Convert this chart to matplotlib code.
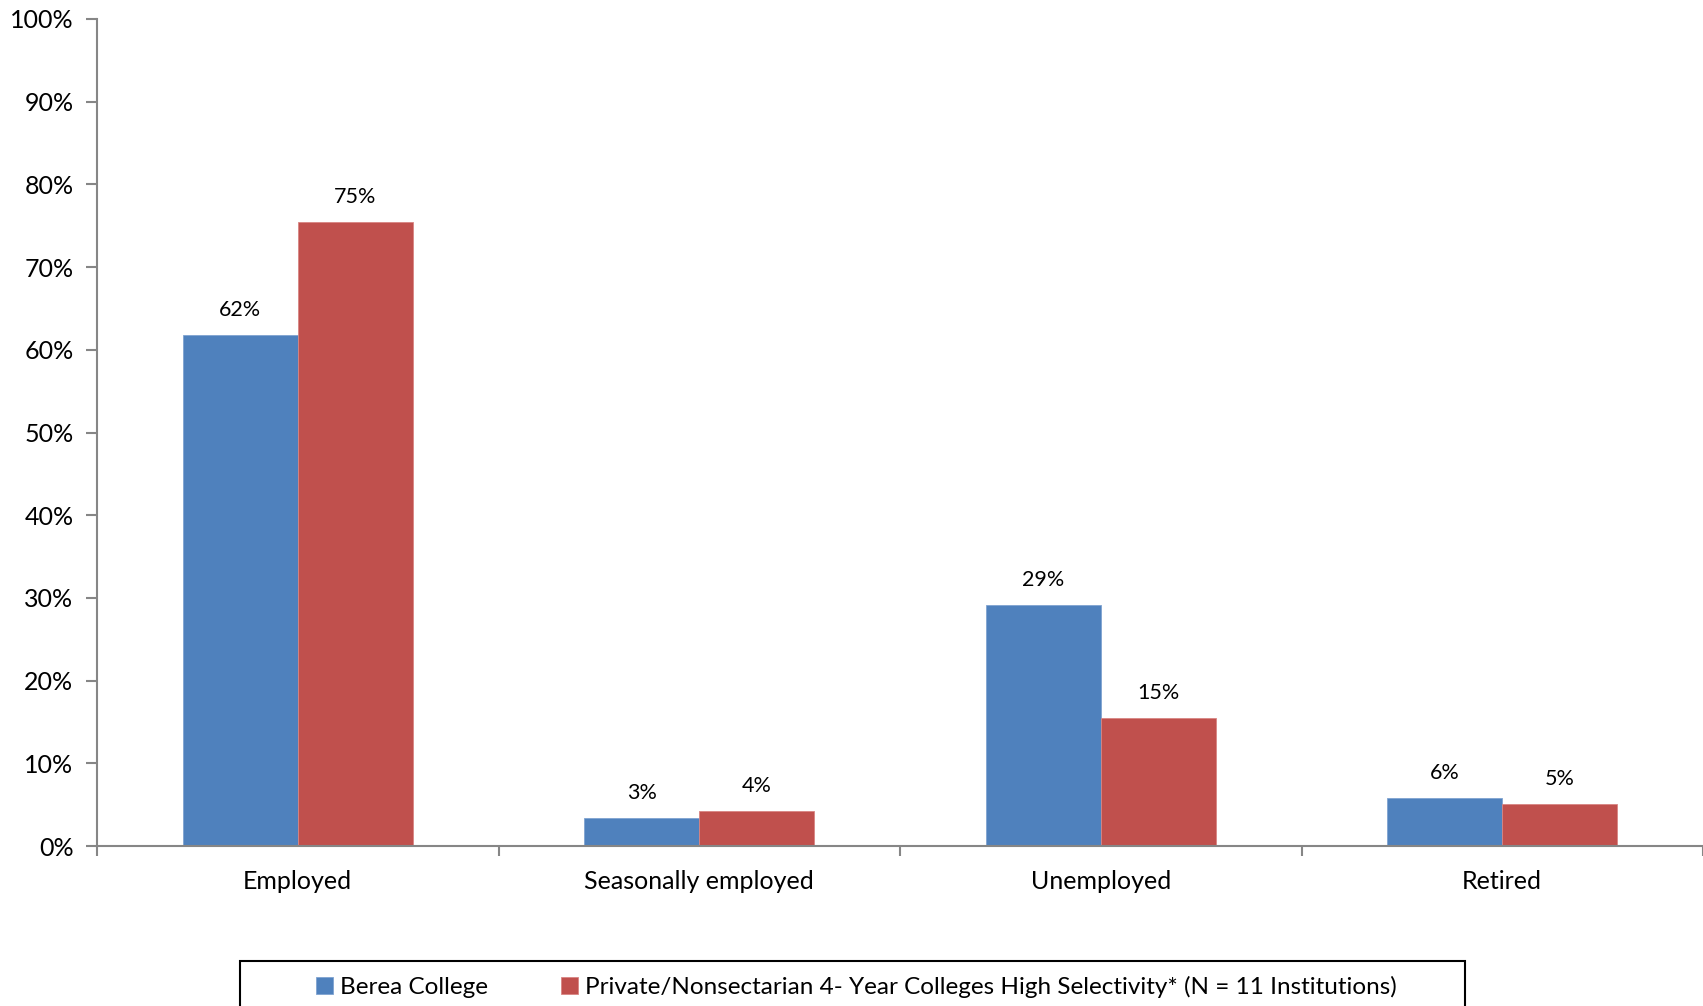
import matplotlib
matplotlib.use("Agg")
import matplotlib.pyplot as plt
import numpy as np
from matplotlib.patches import Rectangle

plt.rcParams['font.family'] = ['Lato', 'DejaVu Sans']

categories = ['Employed', 'Seasonally employed', 'Unemployed', 'Retired']
berea = [61.8, 3.4, 29.1, 5.8]
private = [75.4, 4.2, 15.5, 5.1]
berea_labels = ['62%', '3%', '29%', '6%']
private_labels = ['75%', '4%', '15%', '5%']
series_names = ['Berea College',
                'Private/Nonsectarian 4- Year Colleges High Selectivity* (N = 11 Institutions)']

blue = '#4F81BD'
red = '#C0504D'
axis_grey = '#868686'

fig = plt.figure(figsize=(17.03, 10.06), dpi=100)
ax = fig.add_axes([97 / 1703, 160 / 1006, 1 - 97 / 1703, (846 - 19) / 1006])

x = np.arange(len(categories))
w = 0.287
b1 = ax.bar(x - w / 2, berea, w, color=blue, edgecolor='#7fa3d1', linewidth=0.6, label=series_names[0])
b2 = ax.bar(x + w / 2, private, w, color=red, edgecolor='#d88583', linewidth=0.6, label=series_names[1])

for bars, labels in ((b1, berea_labels), (b2, private_labels)):
    for rect, lab in zip(bars, labels):
        ax.annotate(lab, (rect.get_x() + rect.get_width() / 2, rect.get_height()),
                    xytext=(0, 11), textcoords='offset points',
                    ha='center', va='bottom', fontsize=15.5)

ax.set_xlim(-0.5, 3.5)
ax.set_ylim(0, 100)
ax.set_yticks(np.arange(0, 101, 10))
ax.set_yticklabels([f'{v}%' for v in range(0, 101, 10)], fontsize=18)

ax.set_xticks(x)
ax.set_xticklabels(categories, fontsize=18)
ax.set_xticks(np.arange(-0.5, 3.6, 1), minor=True)
ax.tick_params(axis='x', which='major', length=0, pad=17)
ax.tick_params(axis='x', which='minor', length=7, width=1.5, color=axis_grey)
ax.tick_params(axis='y', length=8, width=1.5, color=axis_grey, pad=9)

for side in ('top', 'right'):
    ax.spines[side].set_visible(False)
for side in ('left', 'bottom'):
    ax.spines[side].set_color(axis_grey)
    ax.spines[side].set_linewidth(1.5)

# legend sits in a box that runs off the bottom edge
fig.patches.append(Rectangle((240 / 1703, -0.05), 1225 / 1703, 0.05 + 45 / 1006,
                             transform=fig.transFigure, facecolor='none',
                             edgecolor='black', linewidth=1.5))
fig.legend(handles=[b1, b2], loc='center', bbox_to_anchor=(0.503, 19 / 1006),
           ncol=2, frameon=False, fontsize=17.5, handlelength=0.7, handleheight=0.7,
           handletextpad=0.3, columnspacing=3.0, borderpad=0)

fig.savefig('out.png', dpi=100)
